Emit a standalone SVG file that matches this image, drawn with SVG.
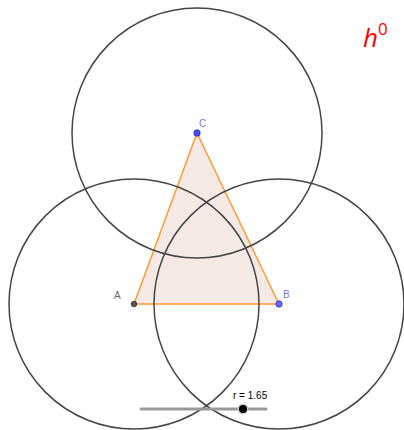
<svg xmlns="http://www.w3.org/2000/svg" width="404" height="430" viewBox="0 0 404 430">
<style>
.circ{fill:none;stroke:#444;stroke-width:1.5}
.lbl{font-family:"Liberation Sans",Arial,sans-serif;font-size:10px}
</style>
<rect width="404" height="430" fill="#fff"/>
<g id="triangle">
<polygon points="134,304 279,304 197,133" fill="#f4e9e5" stroke="#ff9933" stroke-width="1.5" stroke-linejoin="round"/>
</g>
<g id="connectors">
<circle class="circ" cx="134" cy="304" r="125"/>
<circle class="circ" cx="279" cy="304" r="125"/>
<circle class="circ" cx="197" cy="133" r="125"/>
</g>
<g id="A">
<circle cx="134" cy="304" r="2.8" fill="#555" stroke="#333" stroke-width="0.8"/>
<text class="lbl" x="114" y="299" fill="#666">A</text>
</g>
<g id="B">
<circle cx="279" cy="304" r="3.2" fill="#6666ff" stroke="#3333aa" stroke-width="0.8"/>
<text class="lbl" x="283" y="298" fill="#7777ff">B</text>
</g>
<g id="C">
<circle cx="197" cy="133" r="3.2" fill="#4d4dff" stroke="#2222aa" stroke-width="0.8"/>
<text class="lbl" x="199" y="127" fill="#7777ff">C</text>
</g>
<g id="slider">
<line x1="141" y1="409" x2="266" y2="409" stroke="#999" stroke-width="3" stroke-linecap="round"/>
<circle cx="243" cy="409" r="5.5" fill="#ccc"/>
<circle cx="243" cy="409" r="4" fill="#000"/>
<text class="lbl" x="233" y="399" fill="#000">r = 1.65</text>
</g>
<g id="title">
<text x="363" y="47" font-family="'Open Sans','DejaVu Sans',sans-serif" font-size="26" font-style="italic" fill="#ff0000">h<tspan font-size="17" font-style="normal" dy="-12">0</tspan></text>
</g>
</svg>
